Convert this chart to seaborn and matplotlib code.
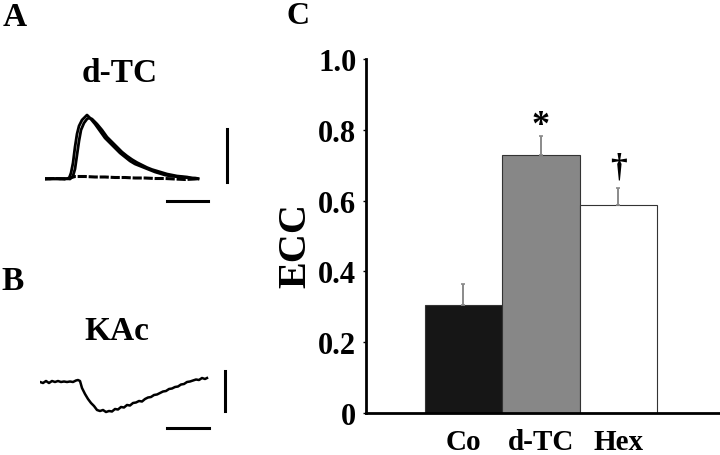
import matplotlib
matplotlib.use('Agg')
import matplotlib.pyplot as plt
import seaborn as sns
import pandas as pd

# bar data (panel C)
groups = ['Co', 'd-TC', 'Hex']
ecc = [0.306, 0.728, 0.588]
sem = [0.058, 0.055, 0.049]
marks = ['', '*', '\u2020']
bar_colors = ['#161616', '#878787', '#ffffff']

# trace A: two success traces and one failure (time ms, amplitude a.u.)
t_a1 = [0, 5, 10, 15, 20, 24, 26, 28, 30, 32, 34, 37, 40, 42, 45, 50, 55, 60, 65,
        70, 75, 80, 85, 90, 95, 100, 105, 110, 115, 120, 125, 130, 135, 140, 145, 150, 153]
v_a1 = [0, 0.5, 0, 0.5, 0, 0.5, 6, 16, 32, 45, 53, 59, 62, 64, 61, 55, 48, 41, 36,
        31, 26, 22, 18, 15, 13, 11, 9, 7, 5.5, 4, 3, 2.5, 2, 1.5, 1, 0.5, 0]
t_a2 = [0, 5, 10, 15, 20, 25, 28, 30, 32, 34, 36, 39, 42, 44, 47, 52, 57, 62, 67,
        72, 77, 82, 87, 92, 97, 102, 107, 112, 117, 122, 127, 132, 137, 142, 147, 150, 153]
v_a2 = [0.5, 0, 0.5, 0, 0.5, 0, 3, 10, 24, 38, 49, 56, 60, 61, 60, 55, 49, 42, 37,
        32, 27, 23, 19.5, 16.5, 14, 11.5, 9.5, 8, 6.5, 5, 4, 3, 2.5, 2, 1, 1, 0.5]
t_af = [0, 10, 20, 25, 30, 40, 50, 60, 70, 80, 90, 100, 110, 120, 130, 140, 150, 153]
v_af = [0, 0.5, 0, 1, 2.5, 2.5, 2, 2, 1.5, 1.5, 1, 1, 0.5, 0.5, 0, -0.5, 0, 0.5]

# trace B
t_b = [0, 3, 6, 9, 12, 15, 18, 21, 24, 27, 30, 33, 36, 38, 40, 42, 45, 48, 51, 54,
       57, 60, 63, 66, 69, 72, 75, 78, 81, 84, 87, 90, 93, 96, 99, 102, 105, 108, 111,
       114, 117, 120, 123, 126, 129, 132, 135, 138, 141, 144, 147, 150, 153, 156, 159,
       162, 165, 167]
v_b = [0, -1, 1, -1, 1, 0, 1, 0, 0.5, 0, 0.5, 0, 1.5, 2, 1, -6, -12, -17, -21, -24,
       -28, -29, -28, -30, -29, -29.5, -27, -27.5, -25, -25.5, -23, -23.5, -21, -20.5,
       -19, -19.5, -17, -15.5, -15, -13, -12.5, -11, -9.5, -9, -7, -6.5, -5, -4.5,
       -2.5, -2, 0, 0.5, 1.5, 2.5, 2, 4, 3, 4]

plt.rcParams['font.family'] = ['Liberation Serif', 'DejaVu Serif']
plt.rcParams['font.weight'] = 'bold'

W, H = 720, 456
fig = plt.figure(figsize=(W / 100, H / 100), dpi=100)

def px_axes(x0, y0, x1, y1):
    # axes placed by pixel box (top-left origin)
    return fig.add_axes([x0 / W, 1 - y1 / H, (x1 - x0) / W, (y1 - y0) / H])

# ---------- panel A ----------
axa = px_axes(45, 90, 245, 210)
for tt, vv in [(t_a1, v_a1), (t_a2, v_a2)]:
    sns.lineplot(x=tt, y=vv, ax=axa, color='black', lw=2.0, sort=False)
sns.lineplot(x=t_af, y=v_af, ax=axa, color='black', lw=2.2, ls=(0, (3, 0.6)), sort=False)
axa.plot([182, 182], [-3, 50], color='black', lw=2.2)
axa.plot([122, 163], [-22, -22], color='black', lw=2.2)
axa.set_xlim(0, 200)
axa.set_ylim(-30, 90)
axa.axis('off')

# ---------- panel B ----------
axb = px_axes(40, 360, 240, 440)
sns.lineplot(x=t_b, y=v_b, ax=axb, color='black', lw=1.8, sort=False)
axb.plot([185, 185], [11, -29], color='black', lw=2.2)
axb.plot([127, 169], [-46, -46], color='black', lw=2.2)
axb.set_xlim(0, 200)
axb.set_ylim(-57, 23)
axb.axis('off')

# ---------- panel C ----------
axc = px_axes(366, 60, 720, 414)
df = pd.DataFrame({'group': groups, 'ecc': ecc})
sns.barplot(data=df, x='group', y='ecc', hue='group', palette=bar_colors,
            width=1.0, edgecolor='#333333', linewidth=0.8, legend=False, ax=axc)
axc.errorbar(range(len(groups)), ecc, yerr=[[0] * len(sem), sem], fmt='none',
             ecolor='#8a8a8a', elinewidth=1.4, capsize=1.5, capthick=1.2)
offsets = [0, 0.03, 0.058]
for i, m in enumerate(marks):
    if m:
        axc.text(i, ecc[i] + sem[i] + offsets[i], m, ha='center', va='center',
                 fontsize=26 if m == '*' else 24, fontweight='bold')
axc.set_xlim(-1.258, 3.31)
axc.set_ylim(0, 1.0)
axc.set_yticks([0, 0.2, 0.4, 0.6, 0.8, 1.0])
axc.set_yticklabels(['0', '0.2', '0.4', '0.6', '0.8', '1.0'])
axc.tick_params(axis='y', length=2, width=1, labelsize=22, pad=5)
axc.tick_params(axis='x', length=0, labelsize=21, pad=11)
axc.set_xlabel('')
axc.set_ylabel('')
for s in ['top', 'right']:
    axc.spines[s].set_visible(False)
for s in ['left', 'bottom']:
    axc.spines[s].set_linewidth(2)
for lab in axc.get_xticklabels() + axc.get_yticklabels():
    lab.set_fontweight('bold')

# text labels
fig.text(296 / W, 1 - 246 / H, 'ECC', rotation=90, ha='center', va='center',
         fontsize=29, fontweight='bold')
fig.text(15 / W, 1 - 18 / H, 'A', ha='center', va='center', fontsize=24, fontweight='bold')
fig.text(13 / W, 1 - 282 / H, 'B', ha='center', va='center', fontsize=24, fontweight='bold')
fig.text(298 / W, 1 - 17 / H, 'C', ha='center', va='center', fontsize=23, fontweight='bold')
fig.text(120 / W, 1 - 73 / H, 'd-TC', ha='center', va='center', fontsize=24, fontweight='bold')
fig.text(117 / W, 1 - 332 / H, 'KAc', ha='center', va='center', fontsize=24, fontweight='bold')

fig.savefig('out.png', dpi=100)
